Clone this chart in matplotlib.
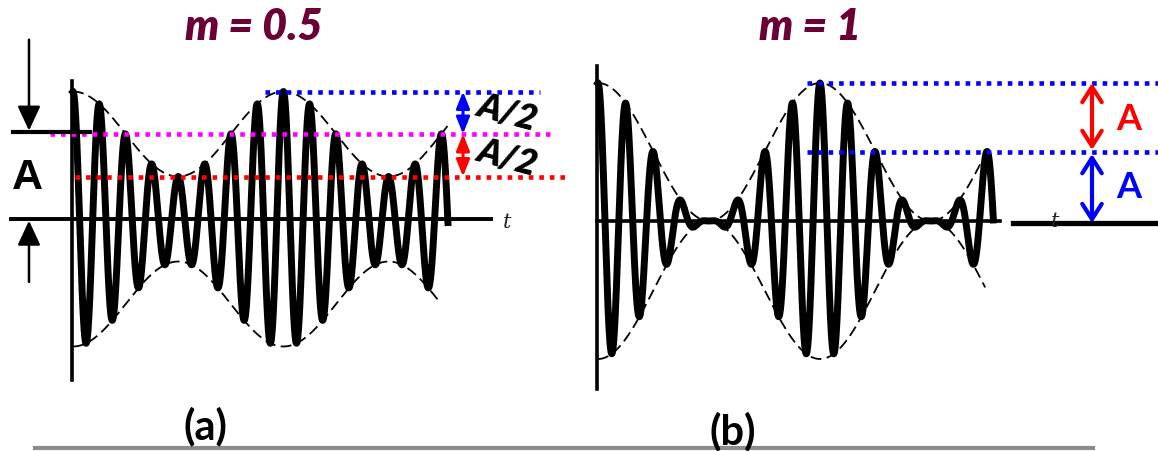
import numpy as np
import matplotlib.pyplot as plt
from matplotlib.transforms import Affine2D, blended_transform_factory

# AM waveform parameters for the two panels
m_values = [0.5, 1.0]
titles = ["m = 0.5", "m = 1"]
panel_labels = ["(a)", "(b)"]
cycles_per_mod = 8          # carrier cycles per modulation period
t_end = [1.782, 1.781]      # length of each trace, in modulation periods
env_upper_end = [1.782, 1.73]
env_lower_end = [1.744, 1.744]

# where each panel's wave sits on the page (pixels): origin and scale of one period / one A
origins = [(73, 220), (598, 222)]
scales = [(210.4, 85), (222.0, 69)]

title_color = "#6b0036"

fig = plt.figure(figsize=(11.58, 4.52), dpi=100)
ax = fig.add_axes([0, 0, 1, 1])
ax.set_xlim(0, 1158)
ax.set_ylim(452, 0)
ax.axis("off")

transforms = []
for (x0, y0), (sx, sy) in zip(origins, scales):
    transforms.append(Affine2D().scale(sx, -sy).translate(x0, y0) + ax.transData)

# draw the two waveforms
for i, m in enumerate(m_values):
    tr = transforms[i]
    t = np.linspace(0, t_end[i], 6000)
    env = 1 + m * np.cos(2 * np.pi * t)
    wave = env * np.cos(2 * np.pi * cycles_per_mod * t)
    ax.plot(t, wave, color="black", lw=5.0, transform=tr, solid_joinstyle="round")

    tu = np.linspace(0, env_upper_end[i], 400)
    tl = np.linspace(0, env_lower_end[i], 400)
    ax.plot(tu, 1 + m * np.cos(2 * np.pi * tu), color="black", lw=1.3,
            linestyle=(0, (6, 3)), transform=tr)
    ax.plot(tl, -(1 + m * np.cos(2 * np.pi * tl)), color="black", lw=1.3,
            linestyle=(0, (6, 3)), transform=tr)

# axes of the original sketches
ax.plot([72, 72], [82, 381], color="black", lw=2.6)
ax.plot([11, 491], [220, 220], color="black", lw=2.8)
ax.plot([597, 597], [67, 390], color="black", lw=2.6)
ax.plot([597, 1000], [222, 222], color="black", lw=2.6)
ax.plot([1013, 1158], [224, 224], color="black", lw=3.8)
ax.text(507, 223, "t", fontsize=15, style="italic", family="DejaVu Serif",
        ha="center", va="center", color="#222222")
ax.text(1055, 222, "t", fontsize=15, style="italic", family="DejaVu Serif",
        ha="center", va="center", color="#222222")

dotted = dict(lw=3.3, linestyle=(0, (1.0, 1.3)), dash_capstyle="butt")

# ---- panel (a) annotations ----
ba = blended_transform_factory(ax.transData, transforms[0])
m = m_values[0]
ax.plot([265, 540], [1 + m, 1 + m], color="#0000ff", transform=ba, **dotted)
ax.plot([50, 555], [1, 1], color="#ff00ff", transform=ba, **dotted)
ax.plot([75, 568], [1 - m, 1 - m], color="#ff0000", transform=ba, **dotted)

ax.annotate("", xy=(463, 1 + m), xytext=(463, 1), xycoords=ba, textcoords=ba,
            arrowprops=dict(arrowstyle="<|-|>,head_length=0.5,head_width=0.2",
                            mutation_scale=20, color="#0000ff", lw=2.2,
                            shrinkA=0, shrinkB=0))
ax.annotate("", xy=(463, 1), xytext=(463, 1 - m), xycoords=ba, textcoords=ba,
            arrowprops=dict(arrowstyle="<|-|>,head_length=0.5,head_width=0.2",
                            mutation_scale=20, color="#ff0000", lw=2.2,
                            shrinkA=0, shrinkB=0))
for y in [113, 158]:
    ax.text(507, y, "A/2", fontsize=26, fontweight="heavy", style="italic",
            family="Lato", rotation=-15, ha="center", va="center")

# amplitude marker on the left
ax.plot([13, 90], [1.02, 1.02], color="black", lw=3, transform=ba)
ax.annotate("", xy=(29, 1.04), xytext=(29, 2.11), xycoords=ba, textcoords=ba,
            arrowprops=dict(arrowstyle="-|>,head_length=0.75,head_width=0.35",
                            mutation_scale=20, color="black", lw=1.8,
                            shrinkA=0, shrinkB=0))
ax.annotate("", xy=(29, -0.02), xytext=(29, -0.74), xycoords=ba, textcoords=ba,
            arrowprops=dict(arrowstyle="-|>,head_length=0.75,head_width=0.35",
                            mutation_scale=20, color="black", lw=1.8,
                            shrinkA=0, shrinkB=0))
ax.text(27, 178, "A", fontsize=31, fontweight="bold", family="Liberation Sans",
        ha="center", va="center")

# ---- panel (b) annotations ----
bb = blended_transform_factory(ax.transData, transforms[1])
m = m_values[1]
ax.plot([807, 1158], [1 + m, 1 + m], color="#0000ff", transform=bb, **dotted)
ax.plot([807, 1158], [1, 1], color="#0000ff", transform=bb, **dotted)
ax.annotate("", xy=(1092, 1 + m), xytext=(1092, 1.03), xycoords=bb, textcoords=bb,
            arrowprops=dict(arrowstyle="<->,head_length=0.55,head_width=0.35",
                            mutation_scale=20, color="#ff0000", lw=3,
                            shrinkA=0, shrinkB=0))
ax.annotate("", xy=(1092, 0.97), xytext=(1092, -0.03), xycoords=bb, textcoords=bb,
            arrowprops=dict(arrowstyle="<->,head_length=0.55,head_width=0.35",
                            mutation_scale=20, color="#0000ff", lw=3,
                            shrinkA=0, shrinkB=0))
ax.text(1129, 119, "A", fontsize=26, fontweight="bold", family="Lato",
        color="#ff0000", ha="center", va="center")
ax.text(1129, 188, "A", fontsize=26, fontweight="bold", family="Lato",
        color="#0000ff", ha="center", va="center")

# titles and panel labels
for x, title in zip([254, 810], titles):
    ax.text(x, 27, title, fontsize=31, fontweight="heavy", style="italic",
            family="Lato", color=title_color, ha="center", va="center")
for x, y, lab in zip([205, 733], [426, 431], panel_labels):
    ax.text(x, y, lab, fontsize=30, fontweight="bold", family="Lato",
            ha="center", va="center")

ax.plot([35, 1093], [449, 449], color="#8c8c8c", lw=3)

fig.savefig("out.png", dpi=100)
